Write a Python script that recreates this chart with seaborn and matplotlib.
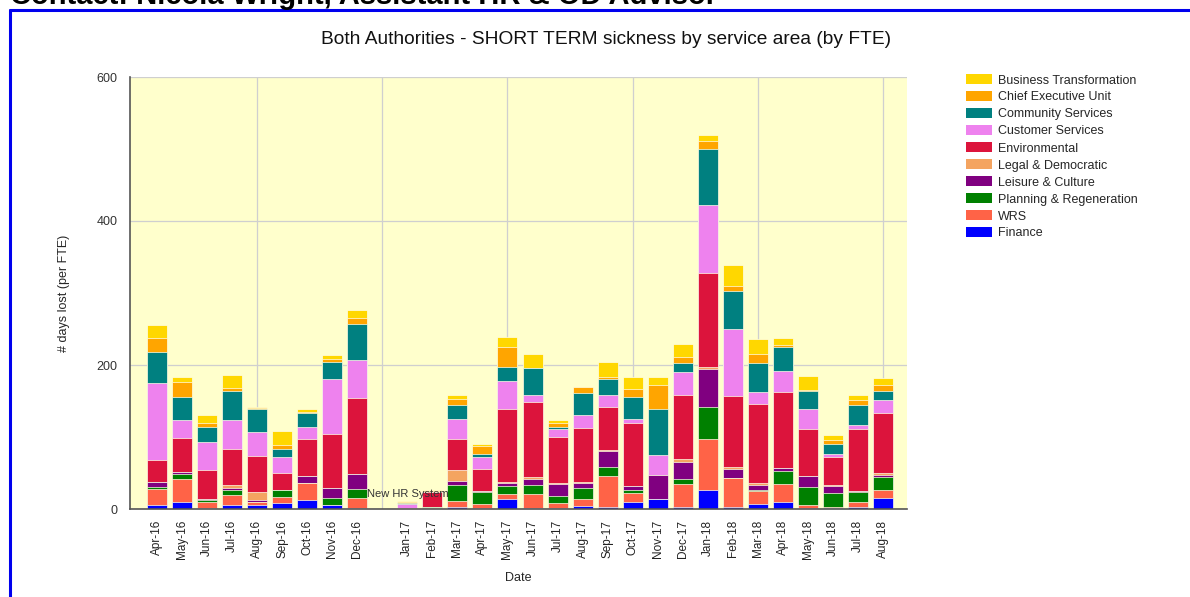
import numpy as np
import pandas as pd
import matplotlib
matplotlib.use("Agg")
import matplotlib.pyplot as plt
import seaborn as sns
from matplotlib.patches import Patch
from matplotlib.lines import Line2D

months = ["Apr-16", "May-16", "Jun-16", "Jul-16", "Aug-16", "Sep-16", "Oct-16", "Nov-16", "Dec-16", " ",
          "Jan-17", "Feb-17", "Mar-17", "Apr-17", "May-17", "Jun-17", "Jul-17", "Aug-17", "Sep-17", "Oct-17",
          "Nov-17", "Dec-17", "Jan-18", "Feb-18", "Mar-18", "Apr-18", "May-18", "Jun-18", "Jul-18", "Aug-18"]

finance = [5, 10, 1, 5, 5, 8, 13, 5, 2, 0, 0.5, 0.5, 3, 2, 14, 2, 1.5, 4.6, 3, 10, 14, 3, 27, 3, 7, 10, 2, 2, 3, 15]
wrs = [23, 32, 9, 15, 5, 9, 23, 1, 13, 0, 0.5, 1.5, 8.5, 5.5, 7, 19, 7, 9, 43, 12, 0, 32, 70, 40, 18, 25, 4, 1, 7, 11]
planning = [3, 7, 2, 7, 0, 10, 0, 9, 13, 0, 0, 1, 22, 16.5, 11, 12, 10, 15, 12.5, 4.5, 0, 7, 44.5, 0.5, 1.5, 17.5, 24.5, 19, 13, 18]
leisure = [7, 3, 1.5, 2, 3, 0, 10.5, 14, 21, 0, 0.5, 0, 5.5, 1, 4, 9, 16, 7, 21.5, 5.5, 33, 23, 53.5, 12, 7, 4.5, 16, 10, 1.5, 3.5]
legal = [0, 0, 0, 4, 10, 0, 0, 0, 0, 0, 0, 0, 15, 0.5, 1.5, 2.3, 1.5, 2.5, 2.3, 0, 0, 3.8, 2.8, 2.3, 2.8, 0, 0, 1, 0, 2]
environmental = [30.5, 46, 40, 51, 51, 23.5, 51, 74.5, 105, 0, 0, 20, 43, 30, 102, 105, 63.5, 75, 60, 87, 0, 89, 130.5, 98.5, 109, 106, 64, 39, 86.5, 84]
customer = [106, 26, 39, 39, 33, 21.5, 16.5, 77, 53, 0, 6, 0.5, 28, 17, 38.5, 9, 11, 17.5, 15.5, 6.5, 28, 33, 93.5, 94, 17.5, 29, 29, 4, 6, 17.5]
community = [43, 32, 22, 41, 32, 11, 19.5, 23.5, 49.5, 0, 1.5, 0.5, 19, 4, 19.5, 38, 3, 30, 23, 29.5, 64.5, 11.5, 78, 53, 40.5, 33, 25, 14.5, 28, 12.5]
chief = [19.5, 21, 5.5, 4, 1.5, 6, 1.5, 4, 9, 0, 0.5, 0.5, 9, 11, 28, 0, 5.5, 8.5, 3, 12, 33, 8.5, 11, 7, 12, 2.5, 1, 5.5, 6, 9]
business = [18, 7, 11, 18, 1.5, 19, 4, 6.5, 11, 0, 1.5, 1.5, 5.5, 3, 14, 19, 4.5, 1, 21, 16.5, 11.5, 19, 8.5, 28, 21, 10, 19.5, 6.5, 8, 9]

# stack order bottom -> top
series_names = ["Finance", "WRS", "Planning & Regeneration", "Leisure & Culture", "Legal & Democratic",
                "Environmental", "Customer Services", "Community Services", "Chief Executive Unit",
                "Business Transformation"]
series_vals = [finance, wrs, planning, leisure, legal, environmental, customer, community, chief, business]
series_colors = ["#0000FF", "#FF6347", "#008000", "#800080", "#F4A460",
                 "#DC143C", "#EE82EE", "#008080", "#FFA500", "#FFD700"]

sns.set_style("white")
plt.rcParams["font.family"] = ["Liberation Sans", "DejaVu Sans"]

fig = plt.figure(figsize=(11.9, 5.97), dpi=100)
ax = fig.add_axes([130 / 1190, 1 - 509 / 597, (907 - 130) / 1190, (509 - 77) / 597])
ax.set_facecolor("#FFFFCC")

vals = np.array(series_vals, dtype=float)
cum = np.cumsum(vals, axis=0)
for i in range(len(series_names) - 1, -1, -1):
    df = pd.DataFrame({"Date": months, "value": cum[i]})
    sns.barplot(data=df, x="Date", y="value", order=months, color=series_colors[i],
                saturation=1, width=0.8, edgecolor="#FFFFE8", linewidth=0.5, ax=ax)

ax.set_xlim(-1.08, 29.96)
ax.set_ylim(0, 600)

# grid & ticks
ax.xaxis.remove_overlapping_locs = False
major = [4, 9, 14, 19, 24, 29]
ax.set_xticks(major)
ax.set_xticklabels([""] * len(major))
ax.set_xticks(range(len(months)), minor=True)
ax.set_xticklabels(months, minor=True, rotation=90, fontsize=8.5, color="#222222")
ax.tick_params(axis="x", which="major", length=7, width=1, color="#333333", direction="out")
ax.tick_params(axis="x", which="minor", length=0, pad=8)
ax.set_yticks([0, 200, 400, 600])
ax.set_yticklabels(["0", "200", "400", "600"], fontsize=9, color="#333333")
ax.tick_params(axis="y", length=7, width=1, color="#333333", direction="out", pad=2)
ax.grid(True, which="major", color="#CFCFCF", linewidth=0.9)
ax.set_axisbelow(True)
for s in ["top", "right"]:
    ax.spines[s].set_visible(False)
for s in ["left", "bottom"]:
    ax.spines[s].set_color("#555555")
    ax.spines[s].set_linewidth(1.2)

ax.set_xlabel("Date", fontsize=9, labelpad=9)
ax.set_ylabel("# days lost (per FTE)", fontsize=9, labelpad=19)

ax.text(10, 21, "New HR System", ha="center", va="center", fontsize=8, color="#333333")

fig.text(606 / 1190, 1 - 40 / 597, "Both Authorities - SHORT TERM sickness by service area (by FTE)",
         ha="center", va="center", fontsize=13.8, color="#111111")

# legend
handles = [Patch(facecolor=series_colors[i], edgecolor="none") for i in range(9, -1, -1)]
labels = [series_names[i] for i in range(9, -1, -1)]
fig.legend(handles, labels, loc="upper left", bbox_to_anchor=(966 / 1190, 1 - 74 / 597),
           frameon=False, fontsize=9, handlelength=2.1, handleheight=0.9, labelspacing=0.36,
           handletextpad=0.45, borderpad=0, borderaxespad=0)

# page decorations
fig.text(10 / 1190, 1 - 4 / 597, "Contact: Nicola Wright, Assistant HR & OD Advisor",
         ha="left", va="baseline", fontsize=21, fontweight="bold", color="#000000")
fig.add_artist(Line2D([10 / 1190, 1.01], [1 - 10 / 597, 1 - 10 / 597], color="#0000EE", linewidth=2.2,
                      transform=fig.transFigure))
fig.add_artist(Line2D([10 / 1190, 10 / 1190], [1 - 10 / 597, -0.01], color="#0000EE", linewidth=2.2,
                      transform=fig.transFigure))

fig.savefig("out.png", dpi=100)
